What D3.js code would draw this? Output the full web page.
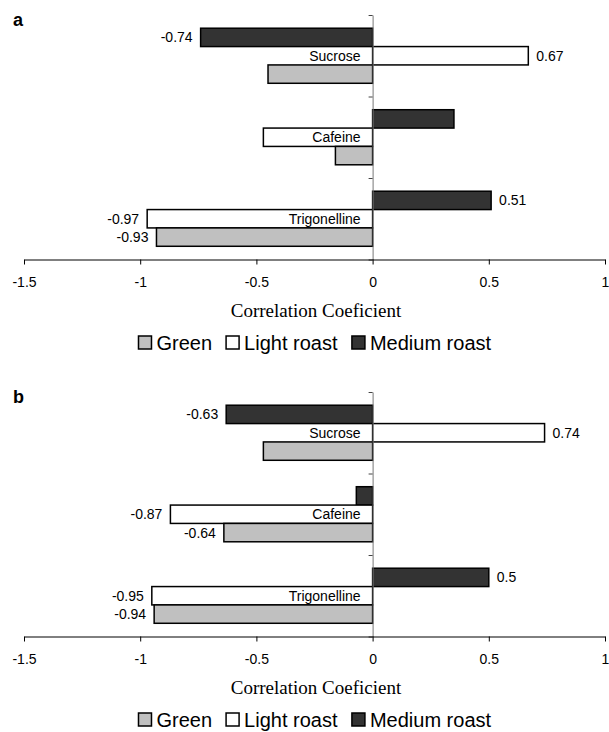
<!DOCTYPE html>
<html>
<head>
<meta charset="utf-8">
<script src="https://cdn.jsdelivr.net/npm/d3@7"></script>
<style>
  html, body { margin: 0; padding: 0; background: #fff; }
  svg { display: block; }
</style>
</head>
<body>
<svg id="chart" width="609" height="732"></svg>
<script>
// Compounds (top to bottom) and roasting degrees (top to bottom within a compound)
const compounds = ["Sucrose", "Cafeine", "Trigonelline"];
const roasts = ["Medium roast", "Light roast", "Green"];
const legendOrder = ["Green", "Light roast", "Medium roast"];

// Correlation coefficients, panel a
const aMedium = [-0.74, 0.35, 0.51];
const aLight  = [0.67, -0.47, -0.97];
const aGreen  = [-0.45, -0.16, -0.93];
// Which bars carry a printed value, panel a
const aLabelMedium = [true, false, true];
const aLabelLight  = [true, false, true];
const aLabelGreen  = [false, false, true];

// Correlation coefficients, panel b
const bMedium = [-0.63, -0.07, 0.5];
const bLight  = [0.74, -0.87, -0.95];
const bGreen  = [-0.47, -0.64, -0.94];
const bLabelMedium = [true, false, true];
const bLabelLight  = [true, true, true];
const bLabelGreen  = [false, true, true];

const xTicks = [-1.5, -1, -0.5, 0, 0.5, 1];
const xTickLabels = ["-1.5", "-1", "-0.5", "0", "0.5", "1"];
const axisTitle = "Correlation Coeficient";

const fills = { "Green": "#c0c0c0", "Light roast": "#ffffff", "Medium roast": "#333333" };

const svg = d3.select("#chart");
const sans = "Arial, 'Liberation Sans', sans-serif";
const serif = "'Times New Roman', 'Liberation Serif', serif";

const x = d3.scaleLinear().domain([-1.5, 1]).range([24, 605]);

function buildRows(med, light, green, lm, ll, lg) {
  const rows = [];
  compounds.forEach((c, i) => {
    rows.push({ compound: c, roast: "Medium roast", value: med[i], label: lm[i] });
    rows.push({ compound: c, roast: "Light roast", value: light[i], label: ll[i] });
    rows.push({ compound: c, roast: "Green", value: green[i], label: lg[i] });
  });
  return rows;
}

function drawPanel(top, letter, rows) {
  const height = 244.5;
  const g = svg.append("g").attr("transform", `translate(0,${top})`);

  const y = d3.scaleBand().domain(compounds).range([0, height]).padding(0);
  const yInner = d3.scaleBand().domain(roasts).range([0, y.bandwidth()])
    .paddingInner(0).paddingOuter(0.72);
  const yEdges = d3.scaleLinear().domain([0, compounds.length]).range([0, height]);

  // panel letter
  g.append("text")
    .attr("x", 13).attr("y", 11)
    .attr("font-family", sans).attr("font-weight", "bold").attr("font-size", 18)
    .text(letter);

  // bars
  g.selectAll("rect.bar").data(rows).join("rect")
    .attr("class", "bar")
    .attr("x", d => x(Math.min(0, d.value)))
    .attr("width", d => Math.abs(x(d.value) - x(0)))
    .attr("y", d => y(d.compound) + yInner(d.roast))
    .attr("height", yInner.bandwidth())
    .attr("fill", d => fills[d.roast])
    .attr("stroke", "#000").attr("stroke-width", 1.5);

  // vertical axis at zero
  const yAxis = d3.axisLeft(yEdges).tickValues(d3.range(compounds.length + 1))
    .tickSize(4).tickSizeOuter(0).tickFormat("");
  const ya = g.append("g").attr("transform", `translate(${x(0)},0)`).call(yAxis);
  ya.select(".domain").attr("stroke", "#777");
  ya.selectAll(".tick line").attr("stroke", "#444");

  // compound names
  g.selectAll("text.cat").data(compounds).join("text")
    .attr("class", "cat")
    .attr("x", x(0) - 12)
    .attr("y", d => y(d) + y.bandwidth() / 2)
    .attr("dy", "0.35em")
    .attr("text-anchor", "end")
    .attr("font-family", sans).attr("font-size", 14)
    .text(d => d);

  // value labels
  g.selectAll("text.val").data(rows.filter(d => d.label)).join("text")
    .attr("class", "val")
    .attr("x", d => d.value < 0 ? x(d.value) - 8 : x(d.value) + 8)
    .attr("y", d => y(d.compound) + yInner(d.roast) + yInner.bandwidth() / 2)
    .attr("dy", "0.35em")
    .attr("text-anchor", d => d.value < 0 ? "end" : "start")
    .attr("font-family", sans).attr("font-size", 14)
    .text(d => String(d.value));

  // horizontal axis
  const xAxis = d3.axisBottom(x).tickValues(xTicks).tickSize(5).tickSizeOuter(0)
    .tickPadding(13)
    .tickFormat((d, i) => xTickLabels[i]);
  const xa = g.append("g").attr("transform", `translate(0,${height})`).call(xAxis);
  xa.select(".domain").attr("stroke", "#000");
  xa.selectAll(".tick line").attr("stroke", "#000");
  xa.selectAll(".tick text").attr("font-family", sans).attr("font-size", 14).attr("fill", "#000");

  // axis title
  g.append("text")
    .attr("x", 316).attr("y", height + 51)
    .attr("dy", "0.35em")
    .attr("text-anchor", "middle")
    .attr("font-family", serif).attr("font-size", 19)
    .text(axisTitle);

  // legend
  const lg = g.append("g").attr("transform", `translate(0,${height + 83})`);
  const sq = 13, gapText = 5, gapItem = 14;
  const items = lg.selectAll("g.item").data(legendOrder).join("g").attr("class", "item");
  items.append("rect")
    .attr("width", sq).attr("height", sq).attr("y", -sq / 2)
    .attr("fill", d => fills[d]).attr("stroke", "#000").attr("stroke-width", 1.5);
  items.append("text")
    .attr("x", sq + gapText).attr("dy", "0.35em")
    .attr("font-family", sans).attr("font-size", 20)
    .text(d => d);
  const widths = [];
  items.each(function () { widths.push(this.getBBox().width); });
  const total = d3.sum(widths) + gapItem * (widths.length - 1);
  let offs = 315 - total / 2;
  items.attr("transform", (d, i) => {
    const t = `translate(${offs},0)`;
    offs += widths[i] + gapItem;
    return t;
  });
}

drawPanel(15, "a", buildRows(aMedium, aLight, aGreen, aLabelMedium, aLabelLight, aLabelGreen));
drawPanel(392, "b", buildRows(bMedium, bLight, bGreen, bLabelMedium, bLabelLight, bLabelGreen));
</script>
</body>
</html>
